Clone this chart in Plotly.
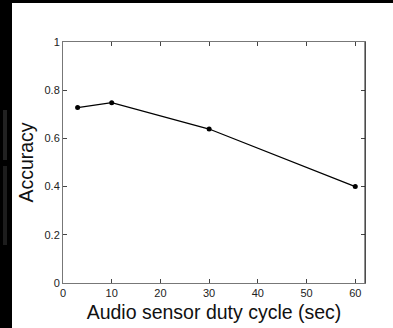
import plotly.graph_objects as go

duty_cycle = [3, 10, 30, 60]
accuracy = [0.728, 0.748, 0.639, 0.400]
x_ticks = [0, 10, 20, 30, 40, 50, 60]
y_ticks = [0, 0.2, 0.4, 0.6, 0.8, 1]
y_tick_labels = ["0", "0.2", "0.4", "0.6", "0.8", "1"]

W, H = 393, 328
L, R, T, B = 63, 365, 42, 283

def px(x):
    return (x - L) / (R - L)

def py(y):
    return (B - y) / (B - T)

fig = go.Figure()
fig.add_trace(go.Scatter(
    x=duty_cycle, y=accuracy, mode="lines+markers",
    line=dict(color="black", width=1.3),
    marker=dict(color="black", size=5),
    showlegend=False, cliponaxis=False,
))

shapes = [
    dict(type="rect", xref="paper", yref="paper", x0=px(0), x1=px(12), y0=py(H), y1=py(0),
         fillcolor="black", line=dict(width=0), layer="above"),
    dict(type="rect", xref="paper", yref="paper", x0=px(0), x1=px(W), y0=py(3), y1=py(0),
         fillcolor="black", line=dict(width=0), layer="above"),
    dict(type="rect", xref="paper", yref="paper", x0=px(3), x1=px(7), y0=py(160), y1=py(110),
         fillcolor="#222222", line=dict(width=0), layer="above"),
    dict(type="rect", xref="paper", yref="paper", x0=px(3), x1=px(7), y0=py(245), y1=py(166),
         fillcolor="#1d1d1d", line=dict(width=0), layer="above"),
    dict(type="line", xref="paper", yref="paper", x0=1, x1=1, y0=0, y1=1,
         line=dict(color="#222", width=1), layer="above"),
]

fig.update_layout(
    width=W, height=H,
    margin=dict(l=L, r=W - R, t=T, b=H - B),
    paper_bgcolor="white", plot_bgcolor="white",
    font=dict(family="Liberation Sans, Arial, sans-serif", color="#111"),
    shapes=shapes,
    xaxis=dict(
        range=[0, 62], tickvals=x_ticks, ticks="inside", ticklen=4, tickcolor="#444",
        showline=True, linecolor="#777", linewidth=1, mirror="ticks", automargin=False,
        showgrid=False, zeroline=False, tickfont=dict(size=11, color="#222"),
        title=dict(text="Audio sensor duty cycle (sec)", font=dict(size=19.5, color="#111"), standoff=7),
    ),
    yaxis=dict(
        range=[0, 1], tickvals=y_ticks, ticktext=y_tick_labels, ticks="inside", ticklen=4,
        tickcolor="#444", showline=True, linecolor="#777", linewidth=1, mirror="ticks",
        automargin=False,
        showgrid=False, zeroline=False, tickfont=dict(size=11, color="#222"),
        title=dict(text="Accuracy", font=dict(size=19.5, color="#111"), standoff=5),
    ),
)

fig.write_html("out.html")
